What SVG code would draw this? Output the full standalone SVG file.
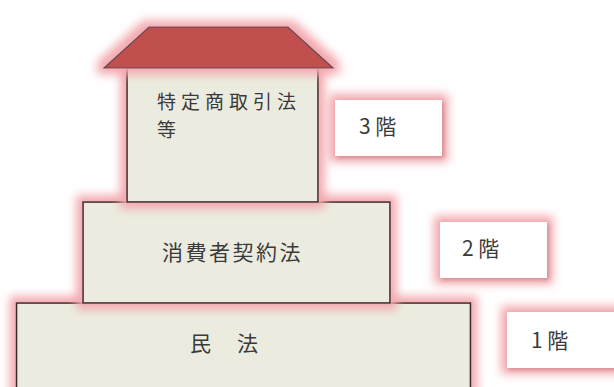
<svg xmlns="http://www.w3.org/2000/svg" width="614" height="387" viewBox="0 0 614 387">
<defs>
<filter id="glow" x="-20%" y="-40%" width="140%" height="180%">
<feMorphology in="SourceAlpha" operator="dilate" radius="6" result="d"/>
<feGaussianBlur in="d" stdDeviation="5" result="b"/>
<feFlood flood-color="#f3a9af" flood-opacity="1"/>
<feComposite in2="b" operator="in" result="g"/>
<feMerge><feMergeNode in="g"/><feMergeNode in="SourceGraphic"/></feMerge>
</filter>
<filter id="glow2" x="-30%" y="-50%" width="160%" height="200%">
<feMorphology in="SourceAlpha" operator="dilate" radius="6" result="d"/>
<feGaussianBlur in="d" stdDeviation="5" result="b"/>
<feFlood flood-color="#f3a9af" flood-opacity="1"/>
<feComposite in2="b" operator="in" result="g"/>
<feOffset in="SourceAlpha" dx="2" dy="2" result="o"/>
<feGaussianBlur in="o" stdDeviation="2" result="ob"/>
<feFlood flood-color="#a05058" flood-opacity="0.5"/>
<feComposite in2="ob" operator="in" result="s"/>
<feMerge><feMergeNode in="g"/><feMergeNode in="s"/><feMergeNode in="SourceGraphic"/></feMerge>
</filter>
</defs>
<style>
.floor{fill:#ebecdf;stroke:#3a2a2a;stroke-width:1.6;}
.roof{fill:#c0504d;stroke:#5a4858;stroke-width:1.2;}
.lbl{fill:#ffffff;}
text{font-family:"Noto Sans CJK JP","Noto Sans CJK SC",sans-serif;fill:#3a3a3a;}
.t{font-size:21px;letter-spacing:2.5px;}
.t3{font-size:19px;letter-spacing:5px;}
.n{font-size:21px;}
</style>
<rect width="614" height="387" fill="#ffffff"/>
<g id="floor1" filter="url(#glow)">
<rect class="floor" x="16.5" y="303" width="454" height="100"/>
</g>
<g id="floor2" filter="url(#glow)">
<rect class="floor" x="83" y="202" width="307" height="101"/>
</g>
<g id="floor3" filter="url(#glow)">
<rect class="floor" x="127" y="68" width="191" height="134"/>
</g>
<g id="roof" filter="url(#glow)">
<polygon class="roof" points="149,27 288,27 333,68 104,68"/>
</g>
<g id="floor1-text"><text class="t" x="190" y="351">民　法</text></g>
<g id="floor2-text"><text class="t" x="162" y="260">消費者契約法</text></g>
<g id="floor3-text"><text class="t3" x="157" y="109">特定商取引法</text><text class="t3" x="157" y="137">等</text></g>
<g id="label3" filter="url(#glow2)">
<rect class="lbl" x="335" y="100" width="107" height="56"/>
</g>
<g id="label2" filter="url(#glow2)">
<rect class="lbl" x="440" y="222" width="107" height="56"/>
</g>
<g id="label1" filter="url(#glow2)">
<rect class="lbl" x="507" y="312" width="110" height="56"/>
</g>
<g id="label-texts">
<text class="n" x="359" y="134">3 階</text>
<text class="n" x="462" y="256">2 階</text>
<text class="n" x="531" y="348">1 階</text>
</g>
<g id="connectors"/>
</svg>
